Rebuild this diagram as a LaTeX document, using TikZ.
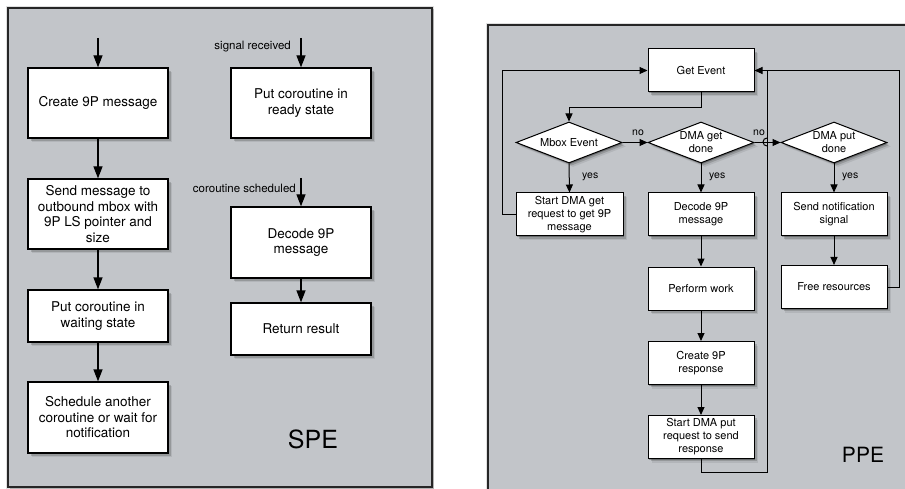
\documentclass[tikz,border=0pt]{standalone}
\usepackage{fontspec}
\setmainfont{TeX Gyre Heros}
\usetikzlibrary{arrows.meta,shapes.geometric,shadows}
\definecolor{panelgray}{RGB}{194,197,201}
\begin{document}
\begin{tikzpicture}[x=1pt,y=-1pt,
  softshadow/.style={
    drop shadow={shadow xshift=1.2pt,shadow yshift=-1.2pt,opacity=.28,fill=black},
    drop shadow={shadow xshift=2.6pt,shadow yshift=-2.6pt,opacity=.16,fill=black},
    drop shadow={shadow xshift=4pt,shadow yshift=-4pt,opacity=.08,fill=black}},
  panelshadow/.style={
    drop shadow={shadow xshift=0pt,shadow yshift=0pt,shadow scale=1.01,opacity=.12,fill=black},
    drop shadow={shadow xshift=1.5pt,shadow yshift=-1.5pt,opacity=.2,fill=black}},
  sbox/.style={draw=black,line width=1.3pt,fill=white,softshadow,minimum width=140pt,
    align=center,inner sep=2pt,font=\fontsize{13.5}{15.5}\selectfont},
  pbox/.style={draw=black,line width=1pt,fill=white,softshadow,minimum width=106pt,
    minimum height=43pt,align=center,inner sep=1pt,font=\fontsize{11}{13}\selectfont},
  pdia/.style={diamond,aspect=2.6,draw=black,line width=1pt,fill=white,softshadow,
    minimum width=106pt,minimum height=41pt,inner sep=0pt,align=center,
    font=\fontsize{11}{13}\selectfont},
  sarr/.style={draw=black,line width=1.3pt,-{Triangle[length=12pt,width=9pt]}},
  parr/.style={draw=black,line width=1pt,-{Triangle[length=8pt,width=7pt]}},
  pline/.style={draw=black,line width=1pt},
  slabel/.style={font=\fontsize{11.5}{13}\selectfont,inner sep=0pt},
  plabel/.style={font=\fontsize{10.5}{12}\selectfont,inner sep=0pt}]
\useasboundingbox (0,0) rectangle (905,489);
\fill[white] (0,0) rectangle (905,489);
\begin{scope}
\clip (0,0) rectangle (905,489);
% panels
\draw[panelshadow,fill=panelgray,draw=black!85,line width=1.3pt] (8,8) rectangle (432,487);
\draw[panelshadow,fill=panelgray,draw=black!85,line width=1.3pt] (488,25) rectangle (930,520);

% ---------- SPE ----------
\node[sbox,minimum height=70pt] (c1) at (98,103) {Create 9P message};
\node[sbox,minimum height=70pt] (c2) at (98,214) {Send message to\\outbound mbox with\\9P LS pointer and\\size};
\node[sbox,minimum height=52pt] (c3) at (98,316) {Put coroutine in\\waiting state};
\node[sbox,minimum height=71pt] (c4) at (98,417.5) {Schedule another\\coroutine or wait for\\notification};
\node[sbox,minimum height=70pt] (r1) at (301,103) {Put coroutine in\\ready state};
\node[sbox,minimum height=71pt] (r2) at (301,242.5) {Decode 9P\\message};
\node[sbox,minimum height=52pt] (r3) at (301,329) {Return result};
\node[font=\fontsize{25}{28}\selectfont,inner sep=0pt] (spe) at (313,439) {SPE};

\coordinate (in1) at (98,38);
\coordinate (in2) at (301,38);
\coordinate (in3) at (301,178);
\draw[sarr] (in1) -- (c1.north);
\draw[sarr] (in2) -- (r1.north);
\draw[sarr] (in3) -- (r2.north);
\node[slabel,anchor=east] (lsig) at (291,47) {signal received};
\node[slabel,anchor=east] (lcor) at (296,188) {coroutine scheduled};
\draw[sarr] (c1) -- (c2);
\draw[sarr] (c2) -- (c3);
\draw[sarr] (c3) -- (c4);
\draw[sarr] (r2) -- (r3);

% ---------- PPE ----------
\node[pbox] (ge) at (701,70.5) {Get Event};
\node[pdia] (mb) at (569,142.5) {Mbox Event};
\node[pdia] (dg) at (701,142.5) {DMA get\\done};
\node[pdia] (dp) at (834,142.5) {DMA put\\done};
\node[pbox,minimum width=107pt] (sg) at (569.5,214.5) {Start DMA get\\request to get 9P\\message};
\node[pbox] (dc) at (701,214.5) {Decode 9P\\message};
\node[pbox] (sn) at (834,214.5) {Send notification\\signal};
\node[pbox] (pw) at (701,288.5) {Perform work};
\node[pbox] (fr) at (834,287) {Free resources};
\node[pbox] (cr) at (701,363) {Create 9P\\response};
\node[pbox] (sp) at (701,437) {Start DMA put\\request to send\\response};
\node[font=\fontsize{21}{24}\selectfont,inner sep=0pt] (ppe) at (863,455) {PPE};

\draw[parr] (ge.south) -- ++(0,15) -| (mb.north);
\draw[parr] (mb.east) -- (dg.west);
\node[plabel] (no1) at (638,133) {no};
\draw[parr] (dg.east) -- (dp.west);
\node[plabel] (no2) at (759,133) {no};
\draw[pline] (767,138) arc[start angle=90,end angle=270,radius=4pt];
\draw[parr] (mb.south) -- (sg.north);
\node[plabel,anchor=west] (y1) at (582,177) {yes};
\draw[parr] (dg.south) -- (dc.north);
\node[plabel,anchor=west] (y2) at (709,177) {yes};
\draw[parr] (dp.south) -- (sn.north);
\node[plabel,anchor=west] (y3) at (842,177) {yes};
\draw[parr] (dc) -- (pw);
\draw[parr] (pw) -- (cr);
\draw[parr] (cr) -- (sp);
\draw[parr] (sn) -- (fr);
\draw[parr] (sg.west) -- ++(-13,0) |- (ge.west);
\coordinate (jx) at (767,70.5);
\draw[pline] (sp.south) -- ++(0,13) -| (jx);
\draw[parr] (fr.east) -- ++(12,0) |- (ge.east);
\end{scope}
\end{tikzpicture}
\end{document}
